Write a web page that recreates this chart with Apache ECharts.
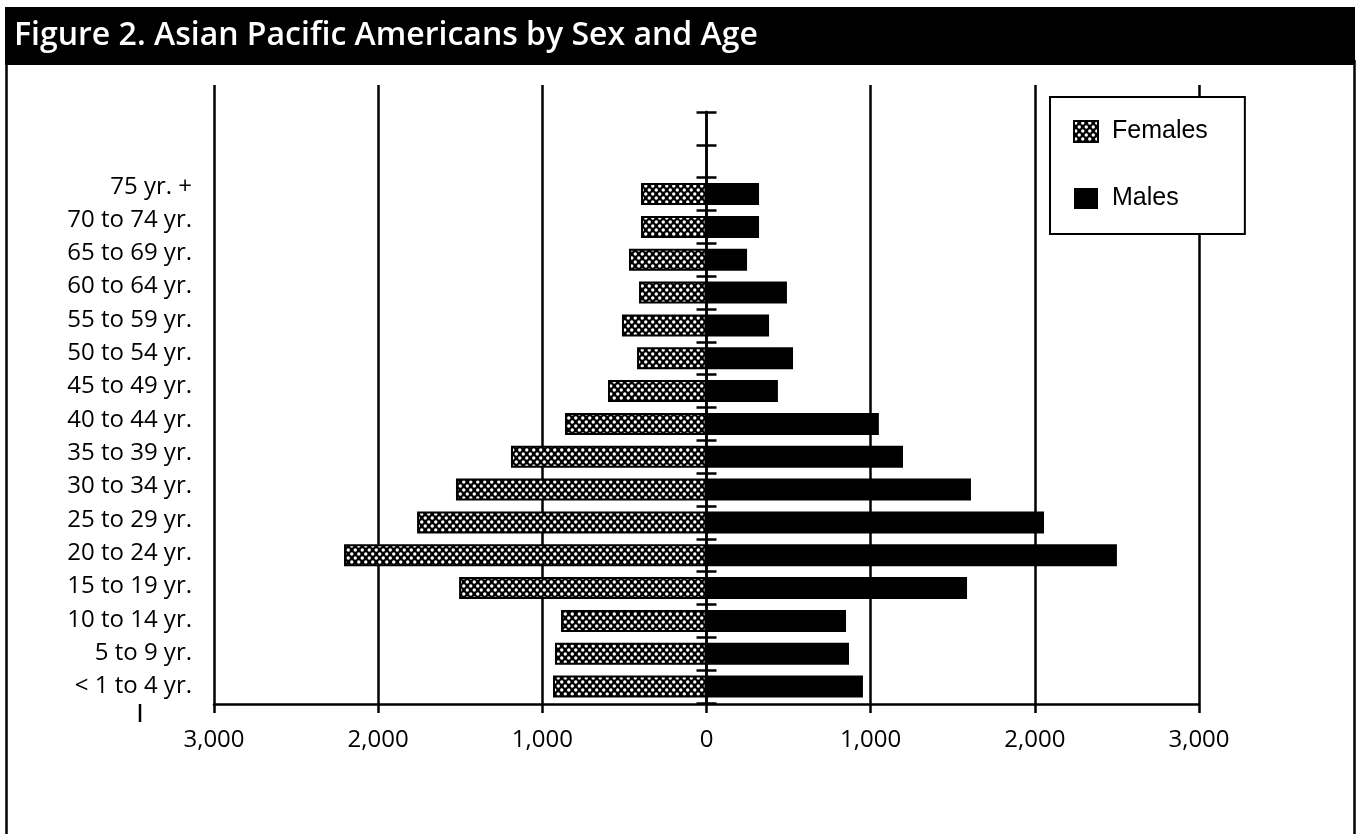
<!DOCTYPE html>
<html><head><meta charset="utf-8">
<script src="https://cdn.jsdelivr.net/npm/echarts@6/dist/echarts.min.js"></script>
<style>html,body{margin:0;padding:0;background:#fff}#c{width:1362px;height:834px}</style>
</head><body><div id="c"></div>
<script>
// ---- data (top to bottom as in the figure) ----
const titleText = 'Figure 2. Asian Pacific Americans by Sex and Age';
const ageGroups = ['75 yr. +','70 to 74 yr.','65 to 69 yr.','60 to 64 yr.','55 to 59 yr.','50 to 54 yr.','45 to 49 yr.','40 to 44 yr.','35 to 39 yr.','30 to 34 yr.','25 to 29 yr.','20 to 24 yr.','15 to 19 yr.','10 to 14 yr.','5 to 9 yr.','< 1 to 4 yr.'];
const females = [399,399,472,411,515,423,600,862,1191,1526,1763,2208,1507,886,923,935];
const males   = [320,320,247,490,381,527,435,1050,1197,1611,2056,2500,1587,850,868,953];
const seriesNames = ['Females','Males'];
const xMin = -3000, xMax = 3000, xStep = 1000;
const emptyTopSlots = ['', ''];

// ---- derived ----
const slotCats = emptyTopSlots.concat(ageGroups);
const femData = emptyTopSlots.map(() => null).concat(females.map(v => -v));
const maleData = emptyTopSlots.map(() => null).concat(males);

// dotted pattern for females
const pc = document.createElement('canvas');
pc.width = 7; pc.height = 8;
const px = pc.getContext('2d');
px.fillStyle = '#000'; px.fillRect(0, 0, 7, 8);
px.fillStyle = '#fff';
[[1.75, 2], [5.25, 6], [-1.75, 6], [8.75, 6]].forEach(([cx, cy]) => {
  px.beginPath(); px.arc(cx, cy, 1.7, 0, Math.PI * 2); px.fill();
});
const femPattern = { image: pc, repeat: 'repeat' };

// fit title font to width
const mc = document.createElement('canvas').getContext('2d');
mc.font = '600 30px "Open Sans"';
const titleSize = Math.round(30 * 744 / mc.measureText(titleText).width * 10) / 10;

const fmt = v => Math.abs(v).toLocaleString('en-US');
const gl = 214, gr = 163, gb = 130;
const lab = { fontFamily: 'Open Sans', fontSize: 24, color: '#000' };
const splitColors = [];
for (let v = xMin; v <= xMax; v += xStep) splitColors.push(v === 0 ? 'rgba(0,0,0,0)' : '#000');

const chart = echarts.init(document.getElementById('c'), null, { renderer: 'canvas' });
chart.setOption({
  animation: false,
  backgroundColor: '#fff',
  title: {
    text: titleText, left: 14, top: 19, padding: 0,
    textStyle: { color: '#fff', fontFamily: 'Open Sans', fontWeight: 600, fontSize: titleSize, lineHeight: 34 }
  },
  graphic: [
    { type: 'rect', z: -1, shape: { x: 5, y: 7, width: 1350, height: 58 }, style: { fill: '#000' } },
    { type: 'line', shape: { x1: 6.5, y1: 60, x2: 6.5, y2: 834 }, style: { stroke: '#000', lineWidth: 2.5 } },
    { type: 'line', shape: { x1: 1354.5, y1: 60, x2: 1354.5, y2: 834 }, style: { stroke: '#000', lineWidth: 2.5 } },
    { type: 'line', shape: { x1: 140, y1: 704, x2: 140, y2: 722 }, style: { stroke: '#000', lineWidth: 2.5 } }
  ],
  legend: {
    data: seriesNames, orient: 'vertical', left: 1050, top: 97,
    backgroundColor: '#fff', borderColor: '#000', borderWidth: 2,
    padding: [22, 37, 23, 23], itemWidth: 24, itemHeight: 21, itemGap: 42, icon: 'rect',
    textStyle: { fontFamily: 'Liberation Sans', fontSize: 25, color: '#000', padding: [0, 0, 0, 9] }
  },
  grid: [
    { left: gl, right: gr, top: 85, bottom: gb },
    { left: gl, right: gr, top: 112, bottom: gb + 1 },
    { left: gl, right: gr, top: 170, bottom: gb + 1 }
  ],
  xAxis: [
    { gridIndex: 0, type: 'value', min: xMin, max: xMax, interval: xStep,
      axisLine: { show: true, onZero: false, lineStyle: { color: '#000', width: 2.5 } },
      axisTick: { show: true, length: 9, lineStyle: { color: '#000', width: 2.5 } },
      axisLabel: Object.assign({ formatter: fmt, margin: 24 }, lab),
      splitLine: { show: true, lineStyle: { color: splitColors, width: 2.5 } } },
    { gridIndex: 1, type: 'value', min: xMin, max: xMax, interval: xStep, show: false, splitLine: { show: false } },
    { gridIndex: 1, type: 'value', min: xMin, max: xMax, interval: xStep, show: false, splitLine: { show: false } },
    { gridIndex: 2, type: 'value', min: xMin, max: xMax, interval: xStep, show: false, splitLine: { show: false } }
  ],
  yAxis: [
    { gridIndex: 0, type: 'value', show: false, splitLine: { show: false } },
    { gridIndex: 1, type: 'category', data: slotCats, inverse: true, position: 'left',
      axisLine: { show: true, onZero: true, onZeroAxisIndex: 1, lineStyle: { color: '#000', width: 2.5 } },
      axisTick: { show: true, inside: true, length: 10, interval: 0, lineStyle: { color: '#000', width: 2.5 } },
      axisLabel: { show: false }, splitLine: { show: false } },
    { gridIndex: 1, type: 'category', data: slotCats, inverse: true, position: 'left',
      axisLine: { show: true, onZero: true, onZeroAxisIndex: 2, lineStyle: { color: '#000', width: 2.5 } },
      axisTick: { show: true, inside: false, length: 10, interval: 0, lineStyle: { color: '#000', width: 2.5 } },
      axisLabel: { show: false }, splitLine: { show: false } },
    { gridIndex: 2, type: 'category', data: ageGroups, inverse: true, position: 'left',
      axisLine: { show: false, onZero: false }, axisTick: { show: false },
      axisLabel: Object.assign({ margin: 22, interval: 0 }, lab), splitLine: { show: false } }
  ],
  series: [
    { name: seriesNames[0], type: 'bar', xAxisIndex: 1, yAxisIndex: 1, data: femData,
      barWidth: 22, barGap: '-100%',
      itemStyle: { color: femPattern, borderColor: '#000', borderWidth: 2 } },
    { name: seriesNames[1], type: 'bar', xAxisIndex: 1, yAxisIndex: 1, data: maleData,
      barWidth: 22, barGap: '-100%',
      itemStyle: { color: '#000' } }
  ]
});
</script>
</body></html>
